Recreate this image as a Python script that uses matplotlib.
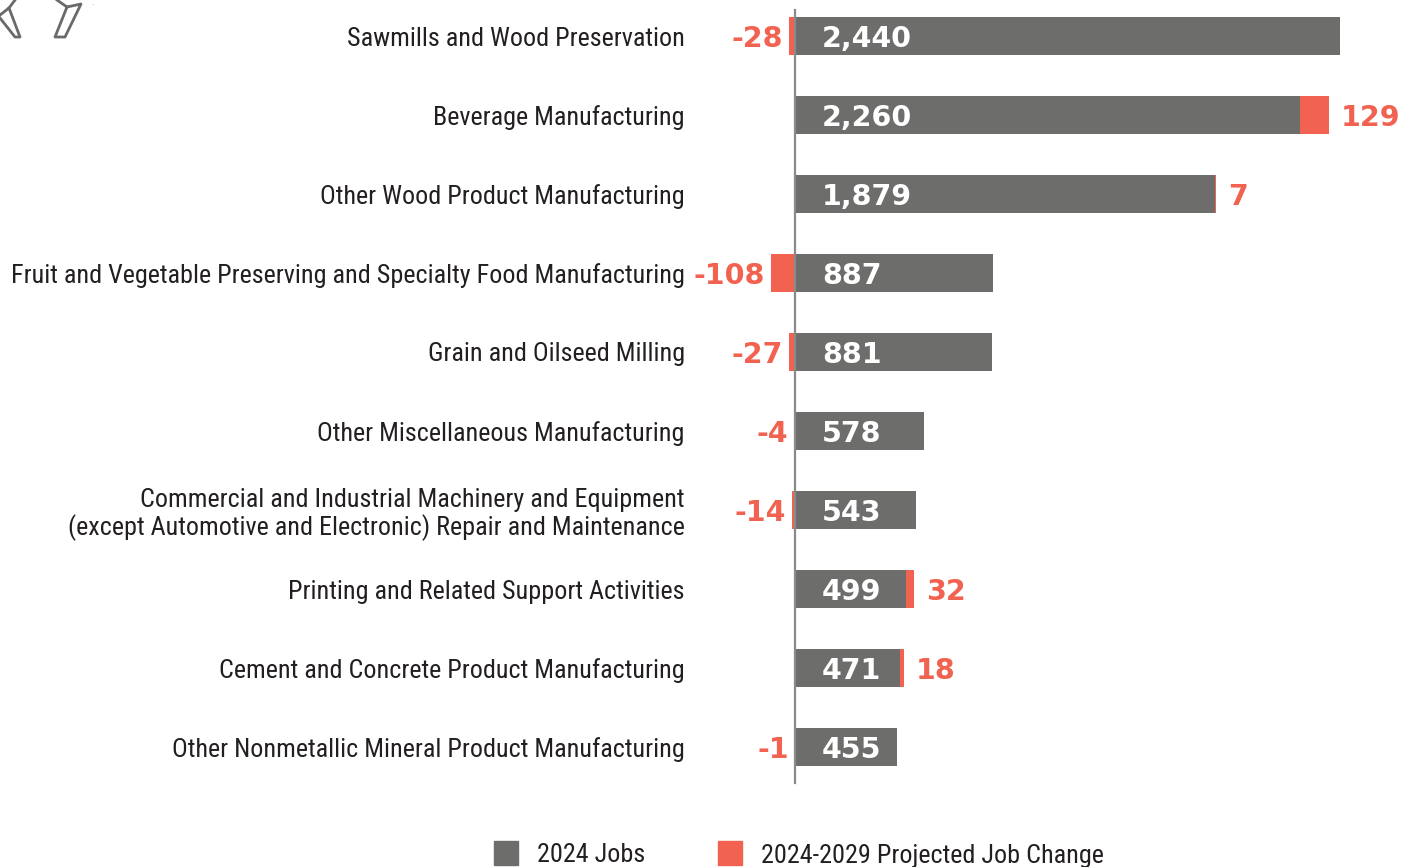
import matplotlib.pyplot as plt
from matplotlib import font_manager as fm
from matplotlib.lines import Line2D
from matplotlib.patches import Rectangle

# Data
industries = [
    'Sawmills and Wood Preservation',
    'Beverage Manufacturing',
    'Other Wood Product Manufacturing',
    'Fruit and Vegetable Preserving and Specialty Food Manufacturing',
    'Grain and Oilseed Milling',
    'Other Miscellaneous Manufacturing',
    'Commercial and Industrial Machinery and Equipment\n(except Automotive and Electronic) Repair and Maintenance',
    'Printing and Related Support Activities',
    'Cement and Concrete Product Manufacturing',
    'Other Nonmetallic Mineral Product Manufacturing',
]
jobs_2024 = [2440, 2260, 1879, 887, 881, 578, 543, 499, 471, 455]
job_change = [-28, 129, 7, -108, -27, -4, -14, 32, 18, -1]

GRAY = '#6d6e6c'
RED = '#f26250'
TEXT = '#231f20'


def pick_font(candidates, min_weight=400, stretch=None):
    for name in candidates:
        for f in fm.fontManager.ttflist:
            w = f.weight if isinstance(f.weight, int) else 400
            if f.name == name and w >= min_weight and 'Italic' not in f.style.title():
                if stretch and f.stretch != stretch:
                    continue
                return fm.FontProperties(fname=f.fname)
    return None


label_fp = (pick_font(['Liberation Sans Narrow', 'Roboto Condensed', 'Open Sans Condensed'])
            or pick_font(['DejaVu Sans'], stretch='condensed')
            or fm.FontProperties(family='Liberation Sans'))
value_fp = (pick_font(['Montserrat'], min_weight=700)
            or fm.FontProperties(family='DejaVu Sans', weight='bold'))

W, H = 1403, 867
fig = plt.figure(figsize=(W / 100, H / 100), dpi=100)
renderer = fig.canvas.get_renderer()

# fit the label font so the longest label spans ~675 px, as in the reference
probe = fig.text(0, 0, industries[3], fontproperties=label_fp, fontsize=16)
wpx = probe.get_window_extent(renderer).width
probe.remove()
label_size = min(20, 16 * 674 / wpx)

# axes: px 700..1403 horizontally, 0..790 vertically; zero at px 795
px_per_job = 545 / 2440
ax_left, ax_right = 700, 1403
ax_top, ax_bot = 0, 790
ax = fig.add_axes([ax_left / W, 1 - ax_bot / H, (ax_right - ax_left) / W, (ax_bot - ax_top) / H])
ax.set_xlim((ax_left - 795) / px_per_job, (ax_right - 795) / px_per_job)
ax.set_ylim((ax_bot - 36) / 79, (ax_top - 36) / 79)
for s in ax.spines.values():
    s.set_visible(False)
ax.set_xticks([])

y = list(range(len(industries)))
bar_h = 0.49
ax.barh(y, jobs_2024, height=bar_h, color=GRAY, zorder=2)
pos_left = [j if c > 0 else 0 for j, c in zip(jobs_2024, job_change)]
ax.barh(y, job_change, left=pos_left, height=bar_h, color=RED, zorder=3)

ax.axvline(0, ymin=(ax_bot - 783) / (ax_bot - ax_top), ymax=(ax_bot - 10) / (ax_bot - ax_top),
           color='#8a8a8a', lw=1.6, zorder=4)

ax.set_yticks(y)
ax.set_yticklabels(industries, color=TEXT, linespacing=1.14)
for t in ax.get_yticklabels():
    t.set_fontproperties(label_fp)
    t.set_fontsize(label_size)
ax.tick_params(axis='y', length=0, pad=11)

val_size = 20.5
gap_in = 27 / px_per_job
gap_pos = 12 / px_per_job
gap_neg = 6 / px_per_job
for yi, j, c in zip(y, jobs_2024, job_change):
    ax.text(gap_in, yi, f'{j:,}', color='white', fontproperties=value_fp, fontsize=val_size,
            ha='left', va='center_baseline', zorder=5)
    if c > 0:
        ax.text(j + c + gap_pos, yi, f'{c}', color=RED, fontproperties=value_fp, fontsize=val_size,
                ha='left', va='center_baseline', zorder=5)
    else:
        ax.text(c - gap_neg, yi, f'{c}', color=RED, fontproperties=value_fp, fontsize=val_size,
                ha='right', va='center_baseline', zorder=5)

# legend
for x0, col, lab in [(494, GRAY, '2024 Jobs'), (718, RED, '2024-2029 Projected Job Change')]:
    fig.add_artist(Rectangle((x0 / W, 1 - 865 / H), 24 / W, 24 / H, transform=fig.transFigure,
                             color=col))
    fig.text((x0 + 43) / W, 1 - 853 / H, lab, fontproperties=label_fp, fontsize=label_size,
             color=TEXT, ha='left', va='center_baseline')

# decorative icon fragment, top-left
icon_lines = [
    [(0, 15), (9, 8), (15, 0)],
    [(9, 8), (20, 37), (15, 37), (0, 18)],
    [(57, 0), (67, 7), (81, 4), (65, 37), (55, 37), (67, 7)],
]
for pts in icon_lines:
    xs = [p[0] / W for p in pts]
    ys = [1 - p[1] / H for p in pts]
    fig.add_artist(Line2D(xs, ys, color='#6a6a6a', lw=2, transform=fig.transFigure))
fig.text(91 / W, 1 - 5 / H, '.', fontsize=6, color='#888888')

fig.savefig('out.png', dpi=100, facecolor='white')
